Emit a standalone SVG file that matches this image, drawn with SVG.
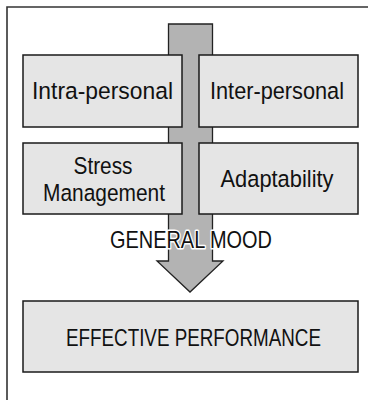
<svg xmlns="http://www.w3.org/2000/svg" width="368" height="400" viewBox="0 0 368 400">
<style>
.box{fill:#e5e5e5;stroke:#1a1a1a;stroke-width:1.5}
.t{font-family:"Liberation Sans Narrow","Liberation Sans",Arial,sans-serif;font-size:24.5px;fill:#111;text-anchor:middle}
.halo{stroke:#fff;stroke-width:3;paint-order:stroke;stroke-linejoin:round}
</style>
<rect width="368" height="400" fill="#fff"/>
<path d="M7,401 V7 H369" fill="none" stroke="#333" stroke-width="1.6"/>
<g id="connectors">
<path id="arrow" d="M168.5,24 H212.5 V261 H223 L190,292 L157,261 H168.5 Z" fill="#b3b3b3" stroke="#222" stroke-width="1.3" stroke-linejoin="miter"/>
</g>
<g id="intra"><rect class="box" x="23" y="55" width="159" height="72"/><text class="t" x="102.5" y="99" textLength="141" lengthAdjust="spacingAndGlyphs">Intra-personal</text></g>
<g id="inter"><rect class="box" x="199" y="55" width="159" height="72"/><text class="t" x="277" y="99" textLength="134" lengthAdjust="spacingAndGlyphs">Inter-personal</text></g>
<g id="stress"><rect class="box" x="23" y="143" width="159" height="71"/><text class="t" x="103" y="174" textLength="59" lengthAdjust="spacingAndGlyphs">Stress</text><text class="t" x="104" y="201" textLength="122" lengthAdjust="spacingAndGlyphs">Management</text></g>
<g id="adapt"><rect class="box" x="199" y="143" width="159" height="71"/><text class="t" x="277" y="187" textLength="113" lengthAdjust="spacingAndGlyphs">Adaptability</text></g>
<g id="mood"><text class="t halo" x="191" y="248" textLength="162" lengthAdjust="spacingAndGlyphs">GENERAL MOOD</text></g>
<g id="perf"><rect class="box" x="23" y="301" width="335" height="71"/><text class="t" x="193.5" y="346" textLength="255" lengthAdjust="spacingAndGlyphs">EFFECTIVE PERFORMANCE</text></g>
</svg>
